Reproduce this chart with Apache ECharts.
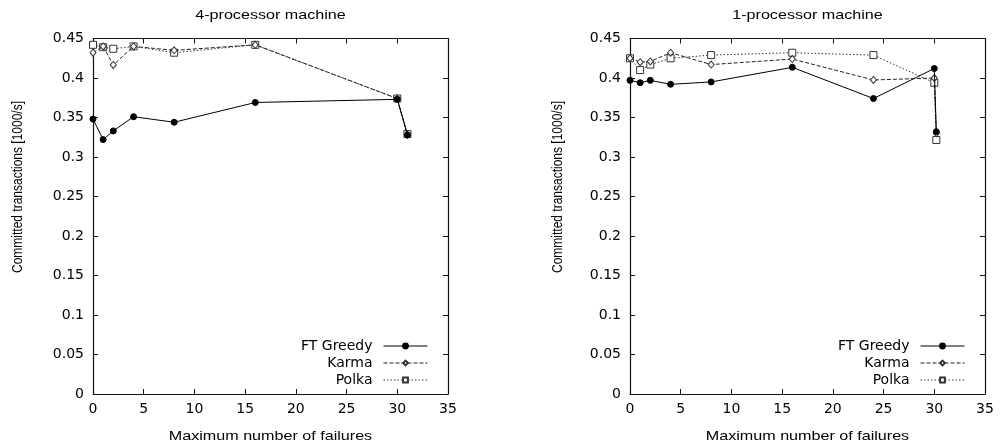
<!DOCTYPE html>
<html>
<head>
<meta charset="utf-8">
<script src="https://cdn.jsdelivr.net/npm/echarts@6/dist/echarts.min.js"></script>
<style>html,body{margin:0;padding:0;background:#fff}#c{width:1000px;height:448px}</style>
</head>
<body>
<div id="c"></div>
<script>
// ---- data ----
const seriesNames = ['FT Greedy', 'Karma', 'Polka'];
const xTicks = [0, 5, 10, 15, 20, 25, 30, 35];
const yTicks = [0, 0.05, 0.1, 0.15, 0.2, 0.25, 0.3, 0.35, 0.4, 0.45];

const xLeft = [0, 1, 2, 4, 8, 16, 30, 31];
const leftGreedy = [0.348, 0.322, 0.333, 0.351, 0.344, 0.369, 0.373, 0.328];
const leftKarma  = [0.432, 0.440, 0.4165, 0.440, 0.435, 0.442, 0.374, 0.328];
const leftPolka  = [0.442, 0.439, 0.437, 0.440, 0.432, 0.442, 0.374, 0.329];

const xRight = [0, 1, 2, 4, 8, 16, 24, 30, 30.2];
const rightGreedy = [0.397, 0.394, 0.397, 0.392, 0.395, 0.4135, 0.374, 0.412, 0.332];
const rightKarma  = [0.425, 0.420, 0.421, 0.432, 0.417, 0.424, 0.3975, 0.400, 0.330];
const rightPolka  = [0.425, 0.410, 0.417, 0.425, 0.429, 0.432, 0.429, 0.394, 0.3215];

const titles = ['4-processor machine', '1-processor machine'];
const xName = 'Maximum number of failures';
const yName = 'Committed transactions [1000/s]';

// ---- styling ----
const FONT = '"DejaVu Sans", sans-serif';
const SANS = '"Liberation Sans", Arial, sans-serif';
const FS = 14;
const pair = (xs, ys) => xs.map((x, i) => [x, ys[i]]);

const grids = [
  {left: 93, right: 552, top: 38.5, bottom: 54},
  {left: 630, right: 15, top: 38.5, bottom: 54}
];

const xAxes = [], yAxes = [];
grids.forEach((g, gi) => {
  const base = {
    type: 'value', gridIndex: gi, min: xTicks[0], max: xTicks[xTicks.length - 1],
    interval: xTicks[1] - xTicks[0],
    axisLine: {show: true, onZero: false, lineStyle: {color: '#111', width: 1.2}},
    axisTick: {show: true, inside: true, length: 5, lineStyle: {color: '#111'}},
    splitLine: {show: false}
  };
  xAxes.push(Object.assign({}, base, {position: 'bottom',
    axisLabel: {show: true, color: '#000', fontFamily: FONT, fontSize: FS, margin: 8}}));
  xAxes.push(Object.assign({}, base, {position: 'top', axisLabel: {show: false}}));
  const ybase = {
    type: 'value', gridIndex: gi, min: yTicks[0], max: yTicks[yTicks.length - 1],
    interval: yTicks[1] - yTicks[0],
    axisLine: {show: true, onZero: false, lineStyle: {color: '#111', width: 1.2}},
    axisTick: {show: true, inside: true, length: 5, lineStyle: {color: '#111'}},
    splitLine: {show: false}
  };
  yAxes.push(Object.assign({}, ybase, {position: 'left',
    axisLabel: {show: true, color: '#000', fontFamily: FONT, fontSize: FS, margin: 9}}));
  yAxes.push(Object.assign({}, ybase, {position: 'right', axisLabel: {show: false}}));
});

const styles = [
  {symbol: 'circle', symbolSize: 6, lineStyle: {color: '#000', width: 1, type: 'solid'},
   itemStyle: {color: '#000', borderColor: '#000', borderWidth: 1}},
  {symbol: 'diamond', symbolSize: [6, 7], lineStyle: {color: '#222', width: 1, type: [4, 2]},
   itemStyle: {color: '#fff', borderColor: '#333', borderWidth: 1}},
  {symbol: 'rect', symbolSize: 7, lineStyle: {color: '#333', width: 1, type: [1.5, 2]},
   itemStyle: {color: '#fff', borderColor: '#333', borderWidth: 1}}
];

const dataSets = [
  [pair(xLeft, leftGreedy), pair(xLeft, leftKarma), pair(xLeft, leftPolka)],
  [pair(xRight, rightGreedy), pair(xRight, rightKarma), pair(xRight, rightPolka)]
];

const series = [];
dataSets.forEach((sets, gi) => {
  sets.forEach((d, si) => {
    series.push(Object.assign({
      type: 'line', name: seriesNames[si], data: d,
      xAxisIndex: gi * 2, yAxisIndex: gi * 2, clip: false, animation: false,
      z: 10 - si
    }, styles[si]));
  });
});

const legendBase = {
  data: seriesNames, orient: 'vertical', align: 'right', top: 339, padding: 0,
  itemWidth: 44, itemHeight: 6, itemGap: 3,
  lineStyle: {width: 1},
  textStyle: {color: '#000', fontFamily: FONT, fontSize: FS, padding: [0, 6, 0, 0]},
  selectedMode: false
};

const graphic = [];
const centers = [(93 + 448) / 2, (630 + 985) / 2];
const ylabelX = [18, 558];
centers.forEach((cx, i) => {
  graphic.push({type: 'text', x: cx, y: 15, scaleX: 1.24,
    style: {text: titles[i], font: '13px ' + SANS, fill: '#000',
      textAlign: 'center', textVerticalAlign: 'middle', align: 'center', verticalAlign: 'middle'}});
  graphic.push({type: 'text', x: cx, y: 436, scaleX: 1.24,
    style: {text: xName, font: '13px ' + SANS, fill: '#000',
      textAlign: 'center', textVerticalAlign: 'middle', align: 'center', verticalAlign: 'middle'}});
  graphic.push({type: 'text', x: ylabelX[i], y: 187, rotation: Math.PI / 2, scaleY: 1.25,
    style: {text: yName, font: '12px ' + SANS, fill: '#000',
      textAlign: 'center', textVerticalAlign: 'middle', align: 'center', verticalAlign: 'middle'}});
});

const chart = echarts.init(document.getElementById('c'), null, {renderer: 'canvas'});
chart.setOption({
  animation: false,
  backgroundColor: '#fff',
  grid: grids,
  xAxis: xAxes,
  yAxis: yAxes,
  legend: [
    Object.assign({}, legendBase, {right: 572}),
    Object.assign({}, legendBase, {right: 35})
  ],
  graphic: graphic,
  series: series
});
</script>
</body>
</html>
